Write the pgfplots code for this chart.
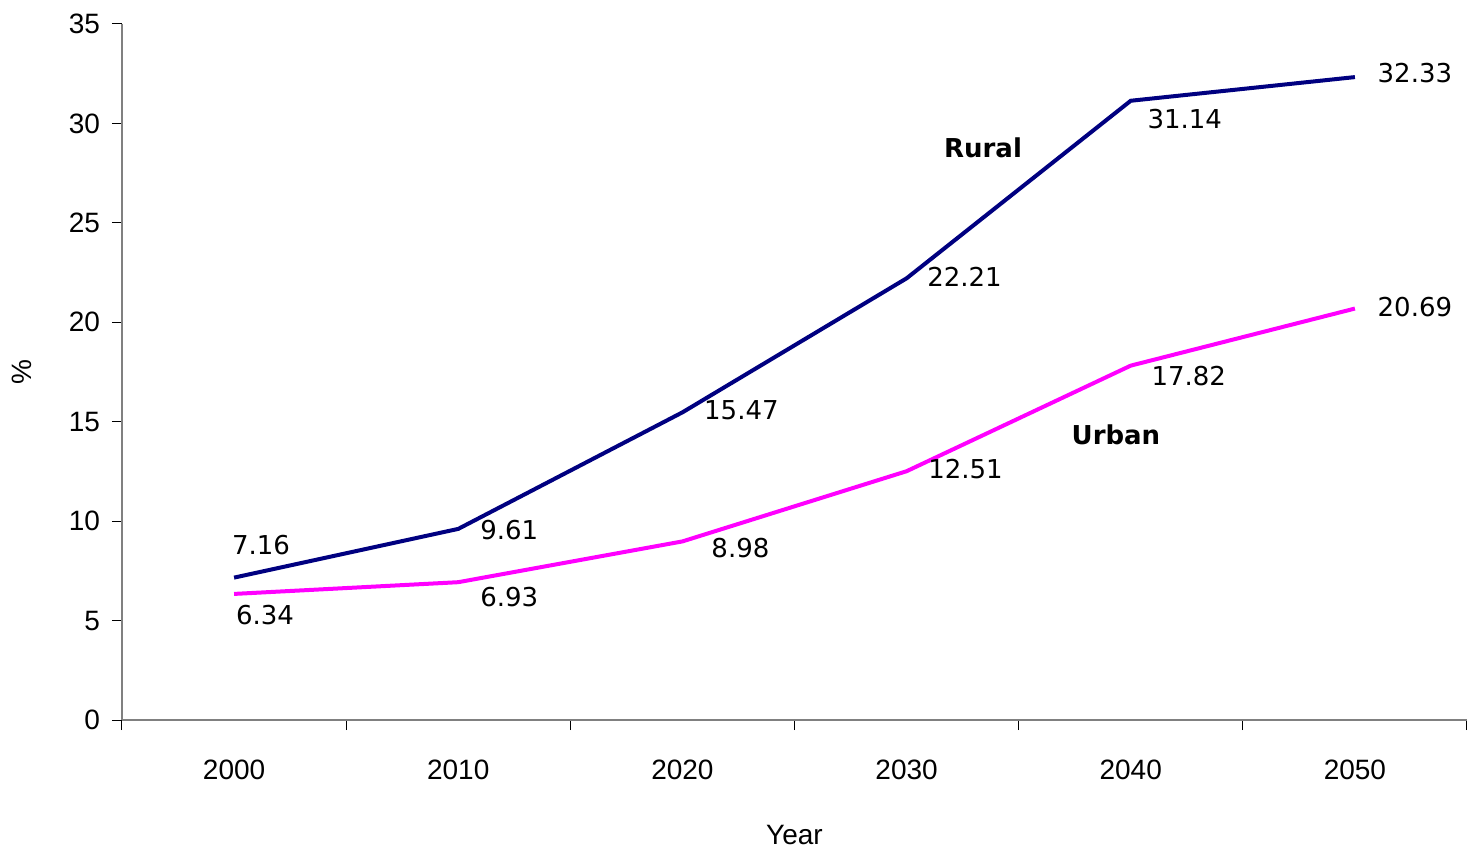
\documentclass[border=0pt]{standalone}
\usepackage{fontspec}
\setmainfont{Liberation Sans}
\newfontfamily\labfont{DejaVu Sans}
\usepackage{pgfplots}
\pgfplotsset{compat=1.18}
\usepackage{pgfplotstable}
\definecolor{ruralblue}{RGB}{0,0,128}
\definecolor{urbanpink}{RGB}{255,0,255}
\definecolor{axgray}{RGB}{128,128,128}

% x = category index (2000..2050), dx/dy = label offsets in pt
\pgfplotstableread{
x y dx dy
0 7.16 13.5 16.5
1 9.61 25.5 -0.5
2 15.47 29.5 1
3 22.21 29 0.5
4 31.14 27 -9
5 32.33 30 2
}\rural
\pgfplotstableread{
x y dx dy
0 6.34 15.5 -10.5
1 6.93 25.5 -7.5
2 8.98 29 -3.5
3 12.51 29.5 1
4 17.82 29 -5
5 20.69 30 1
}\urban

\begin{document}
\begin{tikzpicture}
\begin{axis}[
    at={(0,0)}, anchor=south west,
    scale only axis,
    width=672.5pt, height=348pt,
    xmin=-0.5, xmax=5.5,
    ymin=0, ymax=35,
    axis x line*=bottom, axis y line*=left,
    axis line style={axgray, line width=1pt},
    xtick={0,...,5},
    xticklabels={2000,2010,2020,2030,2040,2050},
    major x tick style={draw=none},
    minor xtick={-0.5,0.5,...,5.5},
    minor tick length=5pt,
    ytick={0,5,...,35},
    major tick length=5pt,
    tick align=outside,
    tick style={black, line width=0.5pt},
    y tick label style={/pgf/number format/assume math mode=true, xshift=-2.5pt},
    tick label style={font=\fontsize{14}{16}\selectfont},
    xticklabel style={anchor=center, yshift=-20pt},
    xlabel={Year}, ylabel={\%},
    label style={font=\fontsize{14}{16}\selectfont},
    xlabel style={at={(axis description cs:0.5,0)}, anchor=center, yshift=-57.5pt},
    ylabel style={at={(axis description cs:0,0.5)}, anchor=center, yshift=50pt},
    clip=false,
    nodes near coords={\pgfmathprintnumber[fixed,precision=2,fixed zerofill,assume math mode=true]{\pgfplotspointmeta}},
    visualization depends on={\thisrow{dx}\as\dx},
    visualization depends on={\thisrow{dy}\as\dy},
    every node near coord/.append style={anchor=center, xshift=\dx pt, yshift=\dy pt,
        font=\labfont\fontsize{13}{15}\selectfont, text=black},
]
\addplot[ruralblue, line width=2pt, mark=none] table[x=x, y=y, meta=y] {\rural};
\addplot[urbanpink, line width=2pt, mark=none] table[x=x, y=y, meta=y] {\urban};
\node[font=\labfont\bfseries\fontsize{13}{15}\selectfont] at (axis cs:3.341,28.76) {Rural};
\node[font=\labfont\bfseries\fontsize{13}{15}\selectfont] at (axis cs:3.934,14.33) {Urban};
\end{axis}
\pgfresetboundingbox
\path[use as bounding box] (-61pt,-65.5pt) rectangle (672.5pt,360pt);
\end{tikzpicture}
\end{document}
